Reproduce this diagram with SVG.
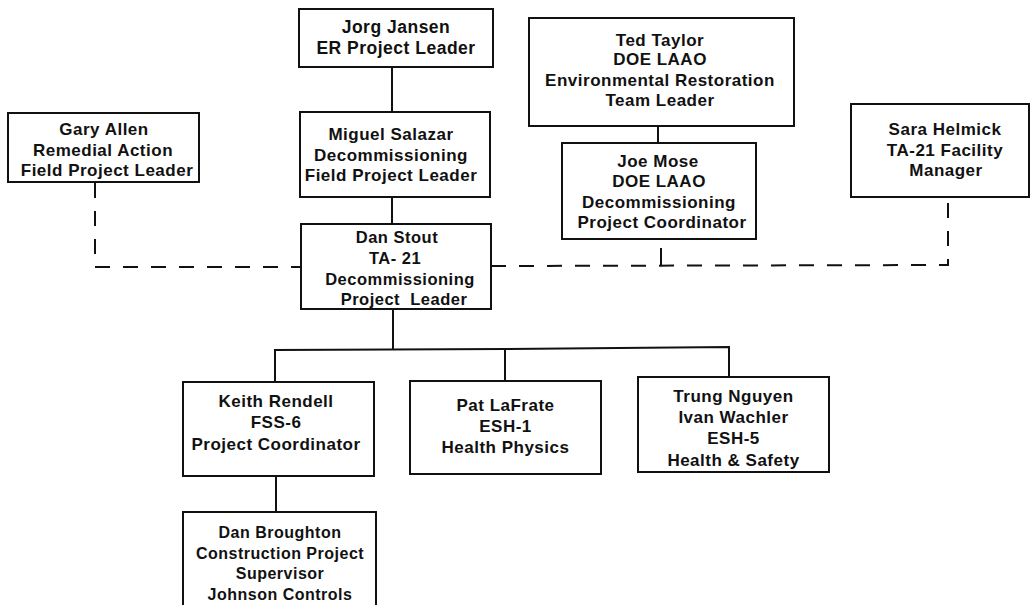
<svg xmlns="http://www.w3.org/2000/svg" width="1031" height="605" viewBox="0 0 1031 605">
<style>
.box{fill:#fff;stroke:#111;stroke-width:2}
.t{font-family:"Liberation Sans",Arial,Helvetica,sans-serif;font-weight:bold;font-size:17px;letter-spacing:0.5px;fill:#111;text-anchor:middle}
.ln{fill:none;stroke:#111;stroke-width:2}
.dl{fill:none;stroke:#111;stroke-width:2;stroke-dasharray:15 13}
</style>
<rect width="1031" height="605" fill="#fff"/>
<g id="connectors">
<line class="ln" x1="392" y1="67" x2="392" y2="112"/>
<line class="ln" x1="392" y1="197" x2="392" y2="224"/>
<line class="ln" x1="393" y1="309" x2="393" y2="349"/>
<polyline class="ln" points="275,382 275,350 505,349 729,347 729,377"/>
<line class="ln" x1="505" y1="349" x2="505" y2="381"/>
<line class="ln" x1="276" y1="476" x2="276" y2="512"/>
<line class="ln" x1="658" y1="126" x2="658" y2="143"/>
<polyline class="dl" points="95,183 95,267 301,267"/>
<polyline class="dl" points="491,266 948,265 948,197"/>
<line class="ln" x1="661" y1="248" x2="661" y2="265"/>
</g>
<g id="jorg">
<rect class="box" x="299" y="9" width="194" height="58"/>
<text class="t" style="font-size:17.5px" x="396" y="33">Jorg Jansen</text>
<text class="t" style="font-size:17.5px" x="396" y="53.5">ER Project Leader</text>
</g>
<g id="miguel">
<rect class="box" x="300" y="112" width="190" height="85"/>
<text class="t" x="391" y="140">Miguel Salazar</text>
<text class="t" x="391" y="160.5">Decommissioning</text>
<text class="t" x="391" y="181">Field Project Leader</text>
</g>
<g id="gary">
<rect class="box" x="8" y="113" width="191" height="69"/>
<text class="t" x="104" y="135">Gary Allen</text>
<text class="t" x="103" y="155.5">Remedial Action</text>
<text class="t" x="107" y="176">Field Project Leader</text>
</g>
<g id="danstout">
<rect class="box" x="301" y="224" width="190" height="85"/>
<text class="t" style="font-size:16.5px" x="397" y="243">Dan Stout</text>
<text class="t" style="font-size:16.5px" x="395" y="264">TA- 21</text>
<text class="t" style="font-size:16.5px" x="400" y="285">Decommissioning</text>
<text class="t" style="font-size:16.5px;white-space:pre" x="404" y="305">Project  Leader</text>
</g>
<g id="ted">
<rect class="box" x="529" y="18" width="265" height="108"/>
<text class="t" x="660" y="45.5">Ted Taylor</text>
<text class="t" x="660" y="65">DOE LAAO</text>
<text class="t" x="660" y="85.5">Environmental Restoration</text>
<text class="t" x="660" y="105.5">Team Leader</text>
</g>
<g id="joe">
<rect class="box" x="562" y="143" width="194" height="96"/>
<text class="t" x="658" y="167">Joe Mose</text>
<text class="t" x="659" y="187">DOE LAAO</text>
<text class="t" x="659" y="208">Decommissioning</text>
<text class="t" x="662" y="228">Project Coordinator</text>
</g>
<g id="sara">
<rect class="box" x="851" y="104" width="178" height="93"/>
<text class="t" x="945" y="135">Sara Helmick</text>
<text class="t" x="945" y="156">TA-21 Facility</text>
<text class="t" x="946" y="176">Manager</text>
</g>
<g id="keith">
<rect class="box" x="183" y="382" width="191" height="94"/>
<text class="t" x="276" y="407">Keith Rendell</text>
<text class="t" x="276" y="428">FSS-6</text>
<text class="t" x="276" y="449.5">Project Coordinator</text>
</g>
<g id="pat">
<rect class="box" x="410" y="381" width="191" height="93"/>
<text class="t" x="505.5" y="410.5">Pat LaFrate</text>
<text class="t" x="505.5" y="431.5">ESH-1</text>
<text class="t" x="505.5" y="452.5">Health Physics</text>
</g>
<g id="trung">
<rect class="box" x="638" y="377" width="191" height="95"/>
<text class="t" x="733.5" y="401.5">Trung Nguyen</text>
<text class="t" x="733.5" y="423">Ivan Wachler</text>
<text class="t" x="733.5" y="444">ESH-5</text>
<text class="t" x="733.5" y="466">Health &amp; Safety</text>
</g>
<g id="broughton">
<rect class="box" x="183" y="512" width="193" height="100"/>
<text class="t" style="font-size:16px" x="280" y="538">Dan Broughton</text>
<text class="t" style="font-size:16px" x="280" y="559">Construction Project</text>
<text class="t" style="font-size:16px" x="280" y="579">Supervisor</text>
<text class="t" style="font-size:16px" x="280" y="600">Johnson Controls</text>
</g>
</svg>
